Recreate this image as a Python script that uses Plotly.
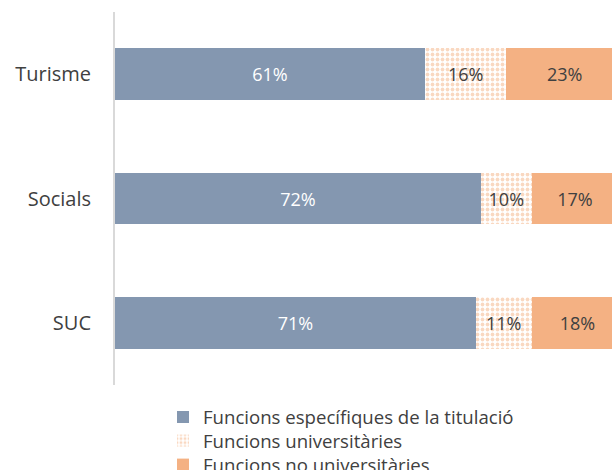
import plotly.graph_objects as go

categories = ["SUC", "Socials", "Turisme"]
especifiques = [71, 72, 61]
universitaries = [11, 10, 16]
no_universitaries = [18, 17, 23]
series_names = ["Funcions específiques de la titulació", "Funcions universitàries", "Funcions no universitàries"]

FONT = "Open Sans, Liberation Sans, sans-serif"

fig = go.Figure()
fig.add_trace(go.Bar(
    y=categories, x=especifiques, orientation="h", name=series_names[0], legend="legend",
    marker=dict(color="#8497B0", line=dict(width=0)),
    text=[f"{v}%" for v in especifiques], textposition="inside", insidetextanchor="middle",
    textfont=dict(color="white", size=18, family=FONT), hoverinfo="skip",
))
fig.add_trace(go.Bar(
    y=categories, x=universitaries, orientation="h", name=series_names[1], legend="legend2",
    marker=dict(color="white", line=dict(width=0),
                pattern=dict(shape=".", fgcolor="#F4B183", bgcolor="white", size=5, solidity=0.45)),
    text=[f"{v}%" for v in universitaries], textposition="inside", insidetextanchor="middle",
    textfont=dict(color="#404040", size=18, family=FONT), hoverinfo="skip",
))
fig.add_trace(go.Bar(
    y=categories, x=no_universitaries, orientation="h", name=series_names[2], legend="legend3",
    marker=dict(color="#F4B183", line=dict(width=0)),
    text=[f"{v}%" for v in no_universitaries], textposition="inside", insidetextanchor="middle",
    textfont=dict(color="#404040", size=18, family=FONT), hoverinfo="skip",
))

legend_style = dict(orientation="v", x=0.0966, xanchor="left", yanchor="middle",
                    font=dict(size=18.6, color="#404040", family=FONT), itemwidth=30,
                    bgcolor="rgba(0,0,0,0)")

fig.update_layout(
    barmode="stack", bargap=0.585,
    width=612, height=470,
    margin=dict(l=115, r=0, t=12, b=85, autoexpand=False),
    paper_bgcolor="white", plot_bgcolor="white",
    font=dict(family=FONT, color="#404040"),
    uniformtext=dict(mode=False),
    showlegend=True,
    legend=dict(legend_style, y=-0.0871),
    legend2=dict(legend_style, y=-0.1501),
    legend3=dict(legend_style, y=-0.2145),
    xaxis=dict(range=[0, 97.8], visible=False, fixedrange=True),
    yaxis=dict(showline=True, linecolor="#D9D9D9", linewidth=2, ticks="", showgrid=False,
               fixedrange=True,
               tickfont=dict(size=20, color="#404040", family=FONT), ticklabelstandoff=18),
)
fig.write_html("out.html", config={"displayModeBar": False},
               post_script="document.body.style.margin='0px';document.body.style.overflow='hidden';")
